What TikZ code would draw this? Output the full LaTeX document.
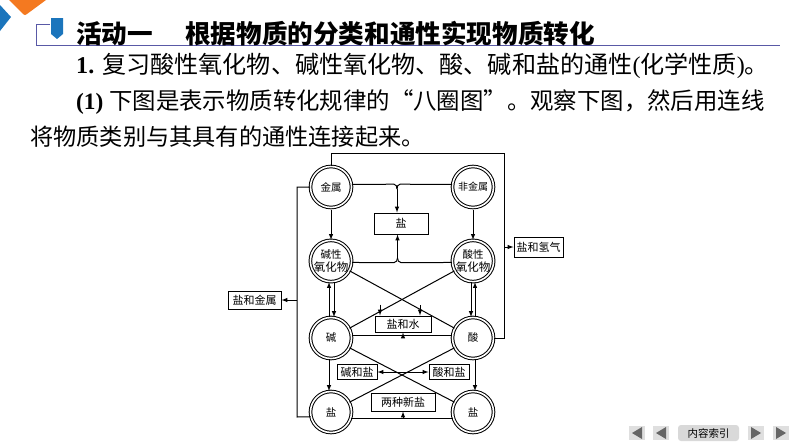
\documentclass[tikz,border=0pt]{standalone}
\usepackage{fontspec}
\setmainfont{Liberation Serif}
\newfontfamily\cjk{Noto Sans CJK SC}
\usetikzlibrary{arrows,shapes,positioning}

\begin{document}
\begin{tikzpicture}[x=1pt, y=-1pt, >=latex]

  \newcommand{\zw}[1]{{\cjk #1}}
  \newcommand{\hangzi}[1]{\fontsize{#1}{26}\selectfont}
  \definecolor{tiblue}{HTML}{1B75BC}
  \definecolor{tiorange}{HTML}{F47920}
  \tikzset{quan/.style =
	{circle, draw, line width = 1pt,
	double, double distance = 1.6pt,
	minimum size = 41pt, inner sep = 0pt,
	align = center, font = \cjk\fontsize{10.5}{13}\selectfont},
	kuang/.style =
	{draw, line width = 1pt, inner sep = 0pt,
	font = \cjk\fontsize{11}{12}\selectfont},
	hang/.style =
	{inner sep = 0pt, anchor = base west},
	biaoti/.style =
	{inner sep = 0pt, anchor = base west, font = \cjk\bfseries\fontsize{25.6}{28}\selectfont},
	lian/.style = {line width = 1pt},
	jian/.style = {line width = 1pt, -latex},
	anniu/.style = {fill = gray!25, draw = none},
	sanjiao/.style = {fill = gray!80!black, draw = none}}
  \useasboundingbox (0,0) rectangle (794,447);

  % header
  \fill[tiorange] (9,0) -- (23,14) -- (25,15) -- (27,14) -- (46,0) -- cycle;
  \fill[tiblue] (0,5) -- (11,17) -- (0,31) -- cycle;
  \draw[gray!70!blue] (50,24) -- (36,24) -- (36,45) -- (780,45);
  \fill[tiblue] (51,18) -- (63,18) -- (63,34) -- (57,39) -- (51,34) -- cycle;
  \node[biaoti] (huodong) at (76,43) {活动一};
  \node[biaoti] (genju) at (185,43) {根据物质的分类和通性实现物质转化};
  \node[hang, font=\hangzi{24.1}] (line1) at (76,73) {\textbf{1.} \zw{复习酸性氧化物、碱性氧化物、酸、碱和盐的通性}(\zw{化学性质})\zw{。}};
  \node[hang, font=\hangzi{23.4}] (line2) at (76,109) {\textbf{(1)} \zw{下图是表示物质转化规律的“八圈图”。观察下图，然后用连线}};
  \node[hang, font=\hangzi{23.2}] (line3) at (30,145) {\zw{将物质类别与其具有的通性连接起来。}};

  % circles
  \node[quan] (jinshu) at (331,187) {金属};
  \node[quan, font=\cjk\fontsize{10}{12}\selectfont] (feijinshu) at (473,187) {非金属};
  \node[quan] (jianxing) at (331,261) {碱性\\{\fontsize{11.5}{13}\selectfont 氧化物}};
  \node[quan] (suanxing) at (473,261) {酸性\\{\fontsize{11.5}{13}\selectfont 氧化物}};
  \node[quan] (jianq) at (331,338) {碱};
  \node[quan] (suanq) at (473,338) {酸};
  \node[quan] (yanl) at (331,412) {盐};
  \node[quan] (yanr) at (473,412) {盐};

  % boxes
  \node[kuang, minimum width=54pt, minimum height=21pt] (byan) at (401,223.5) {盐};
  \node[kuang, minimum width=49pt, minimum height=20pt] (bqing) at (538.5,247) {盐和氢气};
  \node[kuang, minimum width=53pt, minimum height=18pt] (bjinshu) at (254.5,300) {盐和金属};
  \node[kuang, minimum width=56pt, minimum height=16pt] (bshui) at (403,324) {盐和水};
  \node[kuang, minimum width=40pt, minimum height=15pt] (bjianyan) at (357,372) {碱和盐};
  \node[kuang, minimum width=40pt, minimum height=15pt] (bsuanyan) at (449,372) {酸和盐};
  \node[kuang, minimum width=64pt, minimum height=18pt] (bliang) at (403,402) {两种新盐};

  % turning points
  \coordinate (huiup) at (397,189);
  \coordinate (huidown) at (397.5,258);
  \coordinate (youshang) at (504,153);
  \coordinate (youxia) at (504,338);
  \coordinate (youfen) at (504,247);
  \coordinate (zuoshang) at (297,187);
  \coordinate (zuoxia) at (297,417);
  \coordinate (zuofen) at (297,300);
  \coordinate (jiaoxia) at (403,372);
  \coordinate (shuil) at (380,304.5);
  \coordinate (shuir) at (420,305);

  % around the outside
  \draw[lian] (jinshu.north) |- (youshang) -- (youxia) -- (suanq.east);
  \draw[jian] (youfen) -- (bqing);
  \draw[lian] (jinshu.west) -- (zuoshang) -- (zuoxia) -- (yanl.193);
  \draw[jian] (zuofen) -- (bjinshu);

  % to the top box
  \draw[lian] (jinshu.7) -- (394,184.2) to[out=0,in=90] (huiup);
  \draw[lian] (feijinshu.173) -- (400,184.2) to[out=180,in=90] (huiup);
  \draw[jian] (huiup) -- (huiup |- byan.north);
  \draw[lian] (jianxing.-4) -- (394,262.6) to[out=0,in=-90] (huidown);
  \draw[lian] (suanxing.184) -- (401,262.6) to[out=180,in=-90] (huidown);
  \draw[jian] (huidown) -- (huidown |- byan.south);

  % columns
  \draw[jian] (jinshu) ++(0,23) -- (jianxing.north);
  \draw[jian] (feijinshu) ++(0,23) -- (suanxing.north);
  \draw[jian] (jianq.90) ++(-2,0) -- ([xshift=-2pt]jianxing.south);
  \draw[jian] (jianxing.south) ++(3,0) -- ([xshift=3pt]jianq.north);
  \draw[jian] (suanxing.south) ++(-2,0) -- ([xshift=-2pt]suanq.north);
  \draw[jian] (suanq.north) ++(2,0) -- ([xshift=2pt]suanxing.south);
  \draw[jian] (jianq.south) ++(-2,0) -- ([xshift=-2pt]yanl.north);
  \draw[jian] (suanq.south) ++(2,0) -- ([xshift=2pt]yanr.north);

  % crossing lines
  \draw[lian] (jianxing.-28) -- (suanq.152);
  \draw[lian] (suanxing.208) -- (jianq.28);
  \draw[jian] (shuil) -- (shuil |- bshui.north);
  \draw[jian] (shuir) -- (shuir |- bshui.north);
  \draw[lian] (jianq.8) -- (suanq.172);
  \draw[jian] (bshui.south |- jianq.8) -- (bshui.south);
  \draw[lian] (jianq.-28) -- (yanr.152);
  \draw[lian] (suanq.208) -- (yanl.28);
  \draw[jian] (jiaoxia) -- (bjianyan);
  \draw[jian] (jiaoxia) -- (bsuanyan);
  \draw[lian] (yanl.-17) -- (yanr.197);
  \draw[jian] (bliang.south |- yanl.-17) -- (bliang.south);

  % footer
  \foreach \xa/\dir in {637/-1,661/-1,756/1,781/1}{
	\fill[anniu] (\xa-8,426) rectangle (\xa+8,440);
	\fill[sanjiao] (\xa+5*\dir,433) -- (\xa-5*\dir,427) -- (\xa-5*\dir,439) -- cycle;
  }
  \node[fill=gray!30, rounded corners=3pt, minimum width=61pt, minimum height=16pt,
	inner sep=0pt, font=\cjk\fontsize{10.5}{12}\selectfont] (suoyin) at (708.5,433) {内容索引};

\end{tikzpicture}
\end{document}
